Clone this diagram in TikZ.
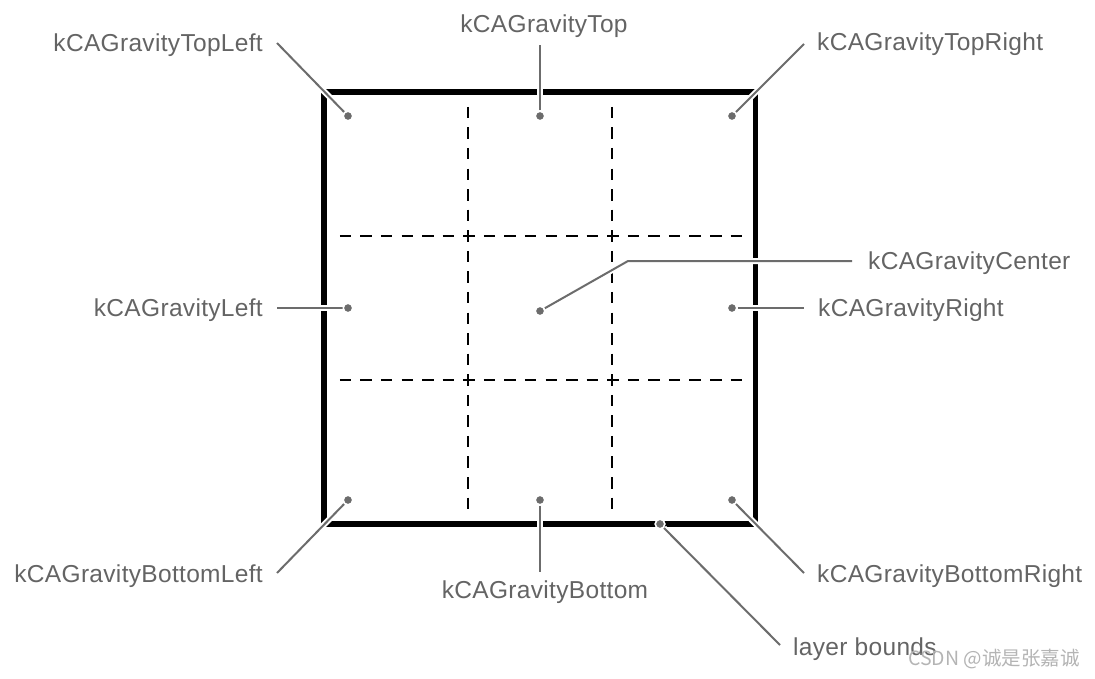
\documentclass[tikz,border=0pt]{standalone}
\usepackage{fontspec}
\setmainfont{Liberation Sans}[LetterSpace=1.3]
\newfontfamily\cjk{Noto Sans CJK SC}
\definecolor{lead}{RGB}{108,108,108}
\definecolor{txt}{RGB}{100,100,100}
\definecolor{wm}{RGB}{180,180,180}

\begin{document}
\begin{tikzpicture}[x=1pt,y=-1pt,
   lbl/.style={inner sep=0pt,text=txt,font=\fontsize{24.5}{28}\selectfont,text height=17.5pt,text depth=0pt},
   pin/.style={circle,fill=lead,draw=white,line width=1.5pt,minimum size=9.5pt,inner sep=0pt},
   leader/.style={draw=lead,line width=2pt,preaction={draw=white,line width=6pt}},
   gridln/.style={line width=2.5pt,dash pattern=on 11.5pt off 9.07pt}]
\useasboundingbox (0,0) rectangle (1095,679);

%% ---- dashed thirds ----
\coordinate (v1a) at (468,106.8);  \coordinate (v1b) at (468,509.2);
\coordinate (v2a) at (612,106.8);  \coordinate (v2b) at (612,509.2);
\coordinate (h1a) at (339.8,236);  \coordinate (h1b) at (742.2,236);
\coordinate (h2a) at (339.8,380);  \coordinate (h2b) at (742.2,380);
\draw[gridln] (v1a)--(v1b) (v2a)--(v2b) (h1a)--(h1b) (h2a)--(h2b);

%% ---- layer bounds ----
\node[draw,line width=5.5pt,minimum width=431.5pt,minimum height=432pt,inner sep=0pt,miter limit=10]
   (layer) at (539.75,308) {};

%% ---- anchor points ----
\node[pin] (tl) at (348,116) {};
\node[pin] (t)  at (540,116) {};
\node[pin] (tr) at (732,116) {};
\node[pin] (l)  at (348,308) {};
\node[pin] (c)  at (540,311) {};
\node[pin] (r)  at (732,308) {};
\node[pin] (bl) at (348,500) {};
\node[pin] (b)  at (540,500) {};
\node[pin] (br) at (732,500) {};
\node[pin] (lb) at (660,524) {};

%% ---- leader ends ----
\coordinate (tlE) at (277,43);
\coordinate (tE)  at (540,45);
\coordinate (trE) at (804,44);
\coordinate (cK)  at (628,261);
\coordinate (cE)  at (852,261);
\coordinate (lE)  at (277,308);
\coordinate (rE)  at (804,308);
\coordinate (blE) at (277,573);
\coordinate (bE)  at (540,572);
\coordinate (brE) at (804,573);
\coordinate (lbE) at (780,645);

\draw[leader] (tl)--(tlE);
\draw[leader] (t)--(tE);
\draw[leader] (tr)--(trE);
\draw[leader] (c)--(cK)--(cE);
\draw[leader] (l)--(lE);
\draw[leader] (r)--(rE);
\draw[leader] (bl)--(blE);
\draw[leader] (b)--(bE);
\draw[leader] (br)--(brE);
\draw[leader] (lb)--(lbE);
% dots again on top of the leaders
\foreach \p in {tl,t,tr,l,c,r,bl,b,br,lb}
  \node[pin] at (\p) {};

%% ---- labels ----
\node[lbl,anchor=east] (tlL) at (263,43) {kCAGravityTopLeft};
\node[lbl] (tL) at (544,24) {kCAGravityTop};
\node[lbl,anchor=west] (trL) at (817,42) {kCAGravityTopRight};
\node[lbl,anchor=west] (cL) at (868,261) {kCAGravityCenter};
\node[lbl,anchor=east] (lL) at (263,308) {kCAGravityLeft};
\node[lbl,anchor=west] (rL) at (818,308) {kCAGravityRight};
\node[lbl,anchor=east] (blL) at (263,574) {kCAGravityBottomLeft};
\node[lbl] (bL) at (545,590) {kCAGravityBottom};
\node[lbl,anchor=west] (brL) at (817,574) {kCAGravityBottomRight};
\node[lbl,anchor=west] (lbL) at (793,647) {layer bounds};
\node[inner sep=0pt,anchor=west,text=wm,font=\cjk\fontsize{19.5}{22}\selectfont] (mark) at (908,659) {CSDN @诚是张嘉诚};
\end{tikzpicture}
\end{document}
